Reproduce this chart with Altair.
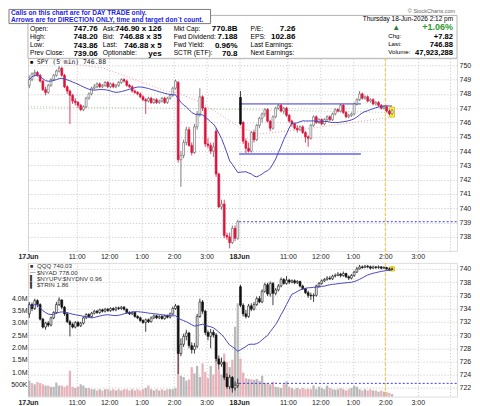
import altair as alt
import pandas as pd

FONT = "Liberation Sans"

# ---------------- data ----------------
session_ticks = [0, 18, 30, 42, 54, 66, 78, 96, 108, 120, 132, 144, 156]
session_labels = ["17Jun", "11:00", "12:00", "1:00", "2:00", "3:00", "18Jun",
                  "11:00", "12:00", "1:00", "2:00", "3:00", ""]
date_ticks = [0, 78]

spy_open_d1 = [748.6, 749.0, 749.4, 749.5, 749.3, 748.9, 748.3, 748.1, 748.6, 749.0,
               749.3, 749.6, 749.8, 749.3, 748.5, 748.2, 747.9, 747.5, 747.4, 747.2,
               746.9, 747.1, 747.7, 748.0, 748.4, 748.5, 748.7, 748.5, 748.6, 748.8,
               748.5, 748.7, 748.5, 748.6, 748.8, 749.0, 748.9, 748.6, 748.5, 748.2,
               748.1, 748.0, 747.8, 747.6, 747.5, 747.7, 747.4, 747.6, 747.4, 747.5,
               747.7, 747.4, 747.7, 747.9, 748.4, 748.8, 743.4, 743.7, 744.6, 745.5,
               744.4, 743.9, 745.7, 746.6, 747.8, 747.0, 744.5, 744.4, 744.0, 745.4,
               742.4, 740.1, 740.3, 738.1, 738.0, 737.6, 738.6, 737.9]
spy_high_d1 = [749.3, 749.5, 749.7, 749.6, 749.4, 749.0, 748.5, 748.7, 749.1, 749.4,
               749.7, 749.95, 749.9, 749.4, 748.6, 748.3, 748.0, 747.7, 747.5, 747.3,
               747.2, 747.8, 748.1, 748.5, 748.7, 748.8, 748.8, 748.7, 748.9, 748.9,
               748.8, 748.8, 748.7, 748.9, 749.1, 749.1, 749.0, 748.7, 748.6, 748.3,
               748.2, 748.1, 747.9, 747.7, 747.8, 747.8, 747.7, 747.7, 747.6, 747.8,
               747.8, 747.8, 748.0, 748.5, 749.0, 748.9, 744.0, 744.8, 745.7, 745.7,
               744.6, 745.9, 746.8, 748.4, 747.9, 747.1, 744.9, 744.6, 744.6, 745.6,
               742.5, 740.6, 740.6, 738.3, 738.3, 738.8, 738.8, 739.2]
spy_low_d1 = [748.4, 748.9, 749.2, 749.2, 748.8, 748.2, 747.9, 748.0, 748.5, 748.9,
              749.2, 749.5, 749.2, 748.4, 748.0, 745.9, 747.3, 747.2, 747.0, 746.8,
              746.8, 747.0, 747.6, 747.9, 748.3, 748.4, 748.4, 748.4, 748.5, 748.4,
              748.4, 748.4, 748.4, 748.5, 748.7, 748.8, 748.5, 748.4, 748.1, 748.0,
              747.9, 747.7, 747.5, 746.6, 747.4, 747.3, 747.3, 747.3, 747.3, 747.4,
              747.3, 747.3, 747.6, 747.8, 748.3, 743.2, 741.5, 743.5, 744.4, 744.3,
              743.7, 743.8, 745.5, 746.4, 746.8, 744.3, 744.2, 743.8, 743.6, 742.2,
              740.0, 739.9, 737.9, 737.8, 737.2, 737.5, 737.7, 737.8]
spy_close_d1 = [749.0, 749.4, 749.5, 749.3, 748.9, 748.3, 748.1, 748.6, 749.0, 749.3,
                749.6, 749.8, 749.3, 748.5, 748.2, 747.9, 747.5, 747.4, 747.2, 746.9,
                747.1, 747.7, 748.0, 748.4, 748.5, 748.7, 748.5, 748.6, 748.8, 748.5,
                748.7, 748.5, 748.6, 748.8, 749.0, 748.9, 748.6, 748.5, 748.2, 748.1,
                748.0, 747.8, 747.6, 747.5, 747.7, 747.4, 747.6, 747.4, 747.5, 747.7,
                747.4, 747.7, 747.9, 748.4, 748.9, 743.4, 743.7, 744.6, 745.5, 744.4,
                743.9, 745.7, 746.6, 747.8, 747.0, 744.5, 744.4, 744.0, 744.3, 742.4,
                740.1, 740.3, 738.1, 738.0, 737.6, 738.6, 737.9, 739.06]

spy_open_d2 = [747.76, 746.0, 744.7, 744.2, 744.0, 745.3, 744.8, 745.8, 746.3, 746.6,
               746.9, 746.1, 745.6, 746.4, 747.0, 747.2, 746.8, 747.0, 746.5, 746.1,
               745.9, 745.6, 745.5, 745.7, 745.3, 745.0, 744.9, 745.8, 746.4, 746.0,
               746.2, 745.9, 746.2, 746.4, 746.2, 746.6, 746.9, 746.8, 747.2, 746.7,
               746.4, 746.5, 746.6, 747.3, 747.6, 748.0, 747.7, 747.8, 747.5, 747.6,
               747.3, 747.4, 747.2, 747.0, 747.1, 746.8, 746.6]
spy_high_d2 = [748.2, 746.1, 744.9, 744.6, 745.4, 745.5, 745.9, 746.4, 746.7, 747.0,
               747.0, 746.2, 746.5, 747.1, 747.3, 747.3, 747.1, 747.1, 746.6, 746.2,
               746.0, 745.8, 745.8, 745.8, 745.4, 745.1, 745.9, 746.5, 746.5, 746.3,
               746.3, 746.3, 746.5, 746.5, 746.7, 747.0, 747.0, 747.3, 747.3, 746.8,
               746.6, 746.7, 747.4, 747.7, 748.2, 748.1, 747.9, 747.9, 747.7, 747.7,
               747.5, 747.5, 747.3, 747.2, 747.2, 746.9, 746.95]
spy_low_d2 = [745.8, 744.5, 743.86, 743.9, 743.9, 744.6, 744.7, 745.6, 746.0, 746.4,
              746.0, 745.4, 745.5, 746.3, 746.9, 746.7, 746.6, 746.4, 746.0, 745.7,
              745.5, 745.3, 745.4, 745.2, 744.6, 744.3, 744.8, 745.7, 745.9, 745.9,
              745.8, 745.8, 746.1, 746.1, 746.1, 746.5, 746.7, 746.7, 746.6, 746.3,
              746.3, 746.4, 746.5, 747.2, 747.5, 747.6, 747.6, 747.4, 747.4, 747.2,
              747.2, 747.1, 746.9, 746.9, 746.7, 746.5, 746.5]
spy_close_d2 = [745.9, 744.7, 744.2, 744.0, 745.3, 744.8, 745.8, 746.3, 746.6, 746.9,
                746.1, 745.6, 746.4, 747.0, 747.2, 746.8, 747.0, 746.5, 746.1, 745.9,
                745.6, 745.5, 745.7, 745.3, 745.0, 744.9, 745.8, 746.4, 746.0, 746.2,
                745.9, 746.2, 746.4, 746.2, 746.6, 746.9, 746.8, 747.2, 746.7, 746.4,
                746.5, 746.6, 747.3, 747.6, 748.0, 747.7, 747.8, 747.5, 747.6, 747.3,
                747.4, 747.2, 747.0, 747.1, 746.8, 746.6, 746.88]

qqq_open_d1 = [733.2, 734.6, 734.0, 735.2, 734.6, 732.4, 731.2, 731.8, 731.5, 732.6,
               733.4, 734.6, 735.3, 734.2, 733.2, 732.0, 731.6, 731.2, 731.9, 731.4,
               731.8, 732.6, 733.1, 732.8, 733.3, 733.6, 733.4, 733.8, 733.6, 733.9,
               733.7, 734.0, 733.8, 734.1, 734.0, 734.2, 733.9, 733.4, 733.2, 733.4,
               732.8, 732.6, 732.2, 731.9, 732.3, 732.0, 732.6, 732.9, 732.6, 732.8,
               732.5, 732.9, 732.7, 733.2, 734.0, 734.4, 727.2, 728.6, 729.8, 730.3,
               728.4, 727.8, 728.3, 732.8, 735.0, 733.6, 730.4, 729.8, 730.4, 730.0,
               726.4, 725.6, 725.9, 723.6, 722.2, 723.6, 722.0, 722.4]
qqq_high_d1 = [735.0, 734.9, 735.5, 735.4, 734.8, 732.6, 732.0, 732.1, 732.8, 733.6,
               735.0, 735.7, 735.4, 734.4, 733.4, 732.3, 731.9, 732.1, 732.1, 732.0,
               732.8, 733.3, 733.3, 733.5, 733.8, 733.8, 734.0, 734.0, 734.1, 734.1,
               734.2, 734.2, 734.3, 734.3, 734.4, 734.4, 734.0, 733.6, 733.6, 733.5,
               733.0, 732.8, 732.4, 732.5, 732.5, 732.8, 733.1, 733.1, 733.0, 733.0,
               733.1, 733.1, 733.4, 734.3, 734.7, 734.5, 729.5, 730.2, 730.8, 730.5,
               728.9, 728.8, 733.2, 735.5, 735.3, 733.8, 730.7, 730.9, 730.8, 730.3,
               726.9, 726.6, 726.1, 724.2, 724.0, 723.8, 723.0, 723.4]
qqq_low_d1 = [732.6, 733.6, 733.8, 734.2, 732.2, 731.0, 730.8, 731.2, 731.3, 732.4,
              733.2, 734.4, 733.9, 732.9, 731.8, 729.8, 731.0, 731.0, 731.2, 731.2,
              731.6, 732.4, 732.6, 732.6, 733.1, 733.2, 733.2, 733.4, 733.4, 733.5,
              733.5, 733.6, 733.6, 733.8, 733.8, 733.7, 733.2, 733.0, 733.0, 732.6,
              732.4, 732.0, 731.7, 730.5, 731.8, 731.9, 732.4, 732.4, 732.4, 732.3,
              732.3, 732.5, 732.5, 733.0, 733.8, 724.1, 726.8, 728.2, 729.2, 728.0,
              727.2, 727.2, 728.0, 732.6, 733.2, 730.0, 729.2, 728.0, 729.6, 726.0,
              724.8, 725.2, 723.2, 721.9, 721.8, 721.3, 721.6, 722.0]
qqq_close_d1 = [734.6, 734.0, 735.2, 734.6, 732.4, 731.2, 731.8, 731.5, 732.6, 733.4,
                734.6, 735.3, 734.2, 733.2, 732.0, 731.6, 731.2, 731.9, 731.4, 731.8,
                732.6, 733.1, 732.8, 733.3, 733.6, 733.4, 733.8, 733.6, 733.9, 733.7,
                734.0, 733.8, 734.1, 734.0, 734.2, 733.9, 733.4, 733.2, 733.4, 732.8,
                732.6, 732.2, 731.9, 732.3, 732.0, 732.6, 732.9, 732.6, 732.8, 732.5,
                732.9, 732.7, 733.2, 734.0, 734.4, 727.2, 728.6, 729.8, 730.3, 728.4,
                727.8, 728.3, 732.8, 735.0, 733.6, 730.4, 729.8, 730.4, 730.0, 726.4,
                725.6, 725.9, 723.6, 722.2, 723.6, 722.0, 722.4, 722.7]

qqq_open_d2 = [737.3, 734.5, 733.2, 732.8, 734.4, 733.9, 734.6, 735.5, 735.0, 736.6,
               737.6, 736.2, 737.8, 736.3, 736.8, 737.4, 738.4, 737.8, 738.3, 738.0,
               738.2, 737.9, 738.1, 737.4, 737.0, 736.4, 736.0, 735.9, 736.0, 737.4,
               737.8, 738.2, 738.4, 738.6, 738.5, 738.9, 739.0, 739.2, 739.0, 739.3,
               738.8, 738.6, 739.0, 739.5, 740.0, 740.3, 740.2, 740.4, 740.3, 740.1,
               740.3, 740.2, 740.3, 740.1, 740.2, 740.0, 739.9]
qqq_high_d2 = [737.6, 734.8, 733.8, 734.7, 734.8, 735.0, 735.8, 735.9, 736.9, 737.9,
               737.9, 738.1, 738.0, 737.1, 737.7, 738.7, 738.6, 738.9, 738.5, 738.4,
               738.4, 738.3, 738.2, 737.6, 737.1, 736.7, 736.4, 736.3, 737.6, 738.0,
               738.4, 738.6, 738.9, 738.9, 739.1, 739.3, 739.5, 739.4, 739.6, 739.4,
               739.0, 739.2, 739.7, 740.3, 740.6, 740.5, 740.6, 740.6, 740.5, 740.5,
               740.4, 740.5, 740.4, 740.4, 740.3, 740.2, 740.2]
qqq_low_d2 = [734.2, 732.8, 732.5, 732.6, 733.6, 733.7, 734.4, 734.8, 734.8, 736.4,
              735.9, 735.8, 734.5, 736.0, 736.6, 737.2, 737.6, 737.6, 737.7, 737.8,
              737.7, 737.7, 737.2, 736.8, 736.2, 735.6, 735.3, 735.0, 735.8, 737.2,
              737.6, 738.0, 738.2, 738.3, 738.3, 738.7, 738.9, 738.7, 738.8, 738.6,
              738.3, 738.4, 738.8, 739.4, 739.9, 740.0, 740.1, 740.1, 739.9, 740.0,
              740.0, 740.0, 739.9, 740.0, 739.8, 739.7, 739.8]
qqq_close_d2 = [734.5, 733.2, 732.8, 734.4, 733.9, 734.6, 735.5, 735.0, 736.6, 737.6,
                736.2, 737.8, 736.3, 736.8, 737.4, 738.4, 737.8, 738.3, 738.0, 738.2,
                737.9, 738.1, 737.4, 737.0, 736.4, 736.0, 735.9, 736.0, 737.4, 737.8,
                738.2, 738.4, 738.6, 738.5, 738.9, 739.0, 739.2, 739.0, 739.3, 738.8,
                738.6, 739.0, 739.5, 740.0, 740.3, 740.2, 740.4, 740.3, 740.1, 740.3,
                740.2, 740.3, 740.1, 740.2, 740.0, 739.9, 740.03]

# volume in millions of shares
volume_d1 = [0.65, 0.55, 0.5, 0.6, 0.55, 0.5, 0.45, 0.45, 0.4, 0.4,
             0.57, 0.45, 0.45, 0.4, 0.45, 1.05, 0.4, 0.35, 0.4, 0.5,
             0.45, 0.35, 0.35, 0.3, 0.3, 0.25, 0.3, 0.25, 0.3, 0.3,
             0.25, 0.3, 0.25, 0.3, 0.25, 0.3, 0.3, 0.25, 0.3, 0.25,
             0.3, 0.25, 0.3, 0.35, 0.45, 0.3, 0.25, 0.3, 0.25, 0.3,
             0.25, 0.3, 0.3, 0.3, 0.35, 1.75, 0.85, 0.8, 0.65, 0.7,
             1.2, 0.95, 1.25, 0.8, 1.35, 1.0, 0.75, 1.25, 0.9, 1.5,
             1.1, 0.9, 1.75, 1.4, 1.2, 1.5, 2.85, 3.8]
volume_d2 = [1.55, 0.98, 0.75, 0.72, 0.7, 0.68, 0.72, 0.65, 0.85, 0.55,
             0.55, 0.5, 0.6, 0.4, 0.38, 0.35, 0.5, 0.62, 0.4, 0.35,
             0.3, 0.35, 0.3, 0.35, 0.3, 0.32, 0.3, 0.45, 0.3, 0.4,
             0.35, 0.3, 0.45, 0.35, 0.3, 0.28, 0.3, 0.35, 0.3, 0.25,
             0.3, 0.35, 0.45, 0.4, 0.3, 0.25, 0.3, 0.25, 0.3, 0.25,
             0.25, 0.2, 0.25, 0.2, 0.18, 0.15, 0.1]

pink_ma_bar = [0, 17, 28, 51, 55, 64, 78, 85, 101, 135]
pink_ma_val = [750.9, 750.1, 749.8, 748.2, 748.1, 747.4, 745.7, 745.2, 745.5, 746.4]
green_ma_bar = [0, 55, 78, 135]
green_ma_val = [747.1, 747.0, 746.9, 746.7]

spy_prev_close = 739.06
qqq_prev_close = 722.7
resistance_level = 747.3
support_level = 743.8
levels_from_bar, levels_to_bar = 78, 123
now_marker_bar = 132

spy_ticks = list(range(738, 751))
qqq_ticks = list(range(722, 741, 2))
vol_ticks = [0.5, 1.0, 1.5, 2.0, 2.5, 3.0, 3.5, 4.0]

hdr_c1_lab = ["Open:", "High:", "Low:", "Prev Close:"]
hdr_c1_val = ["747.76", "748.20", "743.86", "739.06"]
hdr_c2_lab = ["Ask:", "Bid:", "Last:", "Optionable:"]
hdr_c2_val = ["746.90 x 126", "746.88 x 35", "746.88 x 5", "yes"]
hdr_c3_lab = ["Mkt Cap:", "Fwd Dividend:", "Fwd Yield:", "SCTR (ETF):"]
hdr_c3_val = ["770.8B", "7.188", "0.96%", "70.8"]
hdr_c4_lab = ["P/E:", "EPS:", "Last Earnings:", "Next Earnings:"]
hdr_c4_val = ["7.26", "102.86", "", ""]
hdr_c5_lab = ["Chg:", "Last:", "Volume:"]
hdr_c5_val = ["+7.82", "746.88", "47,923,288"]
hdr_date = "Thursday  18-Jun-2026  2:12 pm"
hdr_pct = "+1.06%"
notice_lines = ["Calls on this chart are for DAY TRADE only.",
                "Arrows are for DIRECTION ONLY, time and target don`t count."]
spy_legend = "SPY (5 min) 746.88"
qqq_legend = ["QQQ 740.03", "$NYAD 778.00", "$NYUPV:$NYDNV 0.96", "$TRIN 1.86"]

# ---------------- frames ----------------
def candle_frame(o, h, l, c, up_col, dn_col, hollow_col):
    rows = []
    for i in range(len(c)):
        prev = c[i - 1] if i > 0 else o[i]
        col = up_col if c[i] >= prev else dn_col
        filled = c[i] < o[i]
        stroke = col if (filled or col == dn_col) else hollow_col
        rows.append(dict(i=i, xm=i + 0.5, xl=i + 0.15, xr=i + 0.85,
                         open=o[i], high=h[i], low=l[i], close=c[i],
                         stroke=stroke, fill=col if filled else "white"))
    return pd.DataFrame(rows)

RED = "#dc143c"
spy = candle_frame(spy_open_d1 + spy_open_d2, spy_high_d1 + spy_high_d2,
                   spy_low_d1 + spy_low_d2, spy_close_d1 + spy_close_d2,
                   "#111111", RED, "#606060")
qqq = candle_frame(qqq_open_d1 + qqq_open_d2, qqq_high_d1 + qqq_high_d2,
                   qqq_low_d1 + qqq_low_d2, qqq_close_d1 + qqq_close_d2,
                   "#111111", "#111111", "#6a6a6a")
vol = pd.DataFrame({"i": range(len(qqq)), "vol": volume_d1 + volume_d2})
vol["xl"] = vol["i"] + 0.08
vol["xr"] = vol["i"] + 0.92
vol["zero"] = 0.0
vol["col"] = ["#e8b2ba" if c < o else "#b9b9b9" for o, c in zip(qqq["open"], qqq["close"])]

pink = pd.DataFrame({"i": pink_ma_bar, "v": pink_ma_val})
green = pd.DataFrame({"i": green_ma_bar, "v": green_ma_val})

# ---------------- scales / axes ----------------
W, H_TOP, H_BOT = 430, 193, 134
X_MAX = 158.5
xs = alt.Scale(domain=[0, X_MAX], nice=False, zero=False)
label_expr = " : ".join(f"datum.value == {v} ? '{t}'" for v, t in zip(session_ticks, session_labels)) + " : ''"
bold_test = " || ".join(f"datum.value == {v}" for v in date_ticks)
xaxis = alt.Axis(values=session_ticks, labelExpr=label_expr, title=None, grid=True,
                 gridDash=[1, 2], gridColor="#c4c4c4", domain=False, ticks=False,
                 labelPadding=2, labelFontSize=7, labelFont=FONT, labelColor="#222",
                 labelOverlap=False, labelFlush=False,
                 labelFontWeight={"condition": {"test": bold_test, "value": "bold"}, "value": "normal"})

def X(f):
    return alt.X(f, type="quantitative", scale=xs, axis=xaxis)

spy_scale = alt.Scale(domain=[737.02, 750.49], nice=False, zero=False)
spy_axis = alt.Axis(orient="right", values=spy_ticks, title=None, grid=True, gridDash=[1, 2],
                    gridColor="#c4c4c4", domain=False, ticks=False, labelPadding=2,
                    labelFontSize=7, labelFont=FONT, labelColor="#222", format="d")

def YS(f):
    return alt.Y(f, type="quantitative", scale=spy_scale, axis=spy_axis)

qqq_scale = alt.Scale(domain=[720.7, 740.9], nice=False, zero=False)
qqq_axis = alt.Axis(orient="right", values=qqq_ticks, title=None, grid=True, gridDash=[1, 2],
                    gridColor="#c4c4c4", domain=False, ticks=False, labelPadding=2,
                    labelFontSize=7, labelFont=FONT, labelColor="#222", format="d")

def YQ(f):
    return alt.Y(f, type="quantitative", scale=qqq_scale, axis=qqq_axis)

vol_scale = alt.Scale(domain=[0, 5.45], nice=False, zero=False)
vol_axis = alt.Axis(orient="left", values=vol_ticks, title=None, grid=False, domain=False,
                    ticks=False, labelPadding=1, labelFontSize=7, labelFont=FONT, labelColor="#222",
                    labelExpr="datum.value < 1 ? format(datum.value * 1000, 'd') + 'K' : format(datum.value, '.1f') + 'M'")

DUMMY = pd.DataFrame({"k": [0]})

def text_block(lines, x, y, size, weight="normal", align="left", color="#000", lh=8.5, font=FONT):
    return alt.Chart(DUMMY).mark_text(align=align, baseline="top", fontSize=size, fontWeight=weight,
                                      color=color, font=font, lineHeight=lh).encode(
        x=alt.value(x), y=alt.value(y), text=alt.value(lines))

def box(x0, x1, y0, y1, fill, stroke):
    return alt.Chart(DUMMY).mark_rect(fill=fill, stroke=stroke, strokeWidth=1).encode(
        x=alt.value(x0), x2=alt.value(x1), y=alt.value(y0), y2=alt.value(y1))

# ---------------- candles ----------------
def candle_layers(df, Y):
    wick = alt.Chart(df).mark_rule(strokeWidth=0.8).encode(
        x=X("xm"), y=Y("low"), y2="high", color=alt.Color("stroke:N", scale=None))
    body = alt.Chart(df).mark_rect(strokeWidth=0.6).encode(
        x=X("xl"), x2="xr", y=Y("open"), y2="close",
        fill=alt.Fill("fill:N", scale=None), stroke=alt.Stroke("stroke:N", scale=None))
    ma = alt.Chart(df).transform_window(
        ma="mean(close)", frame=[-19, 0], sort=[alt.SortField("i")]
    ).mark_line(color="#4646c4", strokeWidth=1).encode(x=X("xm"), y=Y("ma:Q"))
    last = df.iloc[[-1]].copy()
    last["x0"] = last["i"] - 0.4
    last["x1"] = last["i"] + 1.4
    last["y0"] = last["low"] - 0.12
    last["y1"] = last["high"] + 0.12
    hl = alt.Chart(last).mark_rect(fill="#ffff33", stroke="#e0b000", strokeWidth=0.8).encode(
        x=X("x0"), x2="x1", y=Y("y0"), y2="y1")
    return hl, wick, body, ma

now_df = pd.DataFrame({"t": [now_marker_bar]})

def now_rule(y0, y1):
    return alt.Chart(now_df).mark_rule(color="#f2c12e", strokeDash=[3, 2], strokeWidth=1).encode(
        x=X("t"), y=alt.value(y0), y2=alt.value(y1))

# ---------------- top panel ----------------
hl_s, wick_s, body_s, ma_s = candle_layers(spy, YS)

green_line = alt.Chart(green).mark_line(color="#a8cca0", strokeDash=[1, 2], strokeWidth=1, clip=True).encode(
    x=X("i"), y=YS("v"))
pink_line = alt.Chart(pink).mark_line(color="#eea0aa", strokeDash=[1, 2], strokeWidth=1, clip=True).encode(
    x=X("i"), y=YS("v"))

res_df = pd.DataFrame({"v": [resistance_level], "a": [levels_from_bar], "b": [levels_to_bar]})
sup_df = pd.DataFrame({"v": [support_level], "a": [levels_from_bar], "b": [levels_to_bar]})
pc_df = pd.DataFrame({"v": [spy_prev_close], "a": [78], "b": [X_MAX]})
res_rule = alt.Chart(res_df).mark_rule(color="#3434d8", strokeWidth=1).encode(x=X("a"), x2="b", y=YS("v"))
sup_rule = alt.Chart(sup_df).mark_rule(color="#8c8cf0", strokeWidth=2).encode(x=X("a"), x2="b", y=YS("v"))
pc_rule = alt.Chart(pc_df).mark_rule(color="#3a3ae6", strokeWidth=1, strokeDash=[2, 2]).encode(
    x=X("a"), x2="b", y=YS("v"))

header = [
    box(0, W, -43, 0, "white", "#b4b4b4"),
    text_block(hdr_c1_lab, 2, -32.6, 6.7, lh=8.2),
    text_block(hdr_c1_val, 70, -33.2, 8, "bold", "right", lh=8.2),
    text_block(hdr_c2_lab, 75, -32.6, 6.7, lh=8.2),
    text_block(hdr_c2_val, 134, -33.2, 8, "bold", "right", lh=8.2),
    text_block(hdr_c3_lab, 146, -32.6, 6.7, lh=8.2),
    text_block(hdr_c3_val, 210, -33.2, 8, "bold", "right", lh=8.2),
    text_block(hdr_c4_lab, 223, -32.6, 6.7, lh=8.2),
    text_block(hdr_c4_val, 268, -33.2, 8, "bold", "right", lh=8.2),
    text_block(hdr_date, 426, -42, 6.5, align="right"),
    text_block("\u25B2", 369, -34.5, 8, color="#2e7d32", align="center"),
    text_block(hdr_pct, 426, -35, 9, "bold", "right", color="#2e9a2e"),
    text_block(hdr_c5_lab, 361, -25, 6.2, lh=8),
    text_block(hdr_c5_val, 426, -25.5, 7.6, "bold", "right", lh=8),
    text_block("\u00A9 StockCharts.com", 428, -49, 5.5, align="right", color="#666"),
    box(-19, 183, -49, -34.8, "white", "#7a7a7a"),
    text_block(notice_lines, -17, -48.6, 6.6, "bold", color="#1f1fe0", lh=6.9),
]

top = alt.layer(
    *header,
    green_line, pink_line,
    res_rule, sup_rule, pc_rule,
    now_rule(0, H_TOP + 6),
    hl_s, wick_s, body_s, ma_s,
    text_block("\u25A0", 2, 1.5, 5.5),
    text_block(spy_legend, 9, 1, 6.4, font="DejaVu Sans Mono", color="#222"),
).properties(width=W, height=H_TOP)

# ---------------- bottom panel ----------------
hl_q, wick_q, body_q, ma_q = candle_layers(qqq, YQ)
qpc_df = pd.DataFrame({"v": [qqq_prev_close], "a": [78], "b": [X_MAX]})
qpc_rule = alt.Chart(qpc_df).mark_rule(color="#3a3ae6", strokeWidth=1, strokeDash=[2, 2]).encode(
    x=X("a"), x2="b", y=YQ("v"))

vol_bars = alt.Chart(vol).mark_rect().encode(
    x=X("xl"), x2="xr",
    y=alt.Y("vol", type="quantitative", scale=vol_scale, axis=vol_axis), y2="zero",
    color=alt.Color("col:N", scale=None))

price_group = alt.layer(
    now_rule(0, H_BOT), qpc_rule, hl_q, wick_q, body_q, ma_q,
    text_block(["\u25A0", "\u2014", "\u258C", "\u258C"], 2, 1, 5.5, lh=6.3, color="#333"),
    text_block(qqq_legend, 9, 0.5, 6.2, lh=6.3, color="#333"),
)

bottom = alt.layer(vol_bars, price_group).resolve_scale(y="independent").properties(width=W, height=H_BOT)

chart = alt.vconcat(top, bottom, spacing=1).properties(padding=0).configure_view(
    stroke="#b0b0b0", strokeWidth=1
).configure(font=FONT)

chart.save("out.html", embed_options={"renderer": "svg", "actions": False})
